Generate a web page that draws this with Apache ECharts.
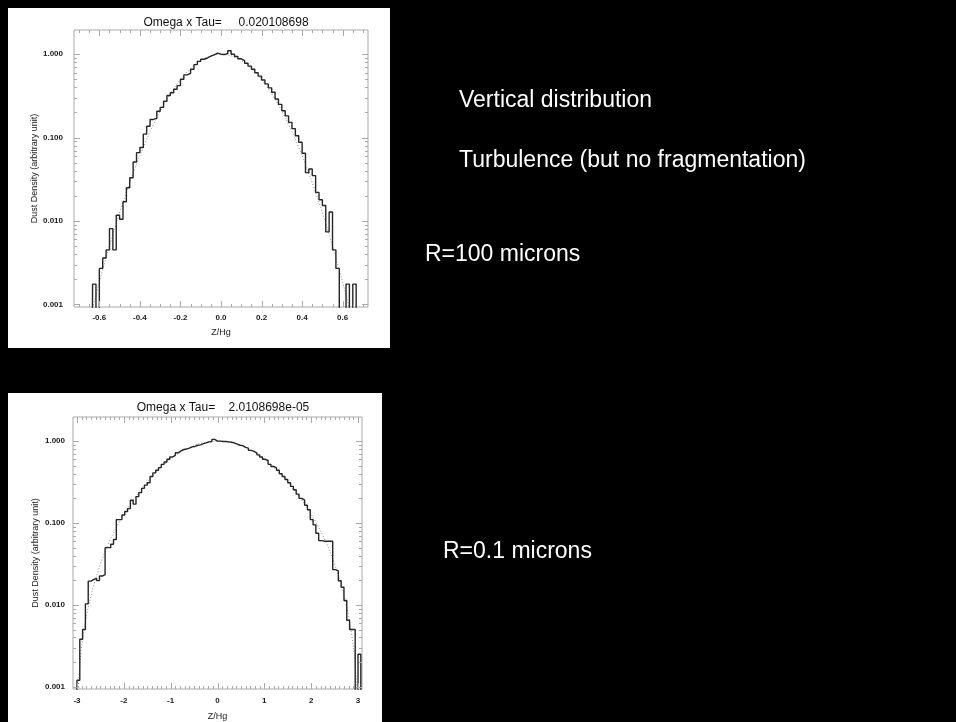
<!DOCTYPE html>
<html>
<head>
<meta charset="utf-8">
<title>Vertical distribution of dust</title>
<script src="https://cdn.jsdelivr.net/npm/echarts@6/dist/echarts.min.js"></script>
<style>
  html, body { margin: 0; padding: 0; background: #000; }
  #chart { width: 956px; height: 722px; }
</style>
</head>
<body>
<div id="chart"></div>
<script>
// ---------- Upper panel: R = 100 microns ----------
const upperTitle = 'Omega x Tau=     0.020108698';
const upperBinFirst = -0.658333;      // centre of the first histogram bin (Z/Hg)
const upperBinWidth = 1 / 60;
const upperDensity = [
  0, 0, 0.00175, 0, 0.0027, 0.0036, 0.0045, 0.0081, 0.0045, 0.0117,
  0.0105, 0.017, 0.025, 0.033, 0.051, 0.066, 0.076, 0.11, 0.137, 0.165,
  0.17, 0.207, 0.23, 0.273, 0.32, 0.345, 0.38, 0.42, 0.50, 0.565,
  0.59, 0.66, 0.75, 0.82, 0.87, 0.90, 0.95, 0.98, 1.03, 1.0,
  0.99, 1.02, 1.10, 1.0, 0.94, 0.88, 0.84, 0.78, 0.72, 0.66,
  0.60, 0.545, 0.49, 0.44, 0.395, 0.35, 0.29, 0.25, 0.21, 0.182,
  0.152, 0.128, 0.105, 0.088, 0.065, 0.038, 0.042, 0.035, 0.022, 0.018,
  0.0153, 0.0074, 0.0128, 0.0045, 0.0027, 0, 0, 0.00175, 0, 0.00175,
  0
];
const upperFitZ = [
  -0.64, -0.60, -0.56, -0.52, -0.48, -0.44, -0.40, -0.36, -0.32, -0.28, -0.24, -0.20, -0.16, -0.12, -0.08, -0.04,
  0,
  0.04, 0.08, 0.12, 0.16, 0.20, 0.24, 0.28, 0.32, 0.36, 0.40, 0.44, 0.48, 0.52, 0.56, 0.60, 0.64
];
const upperFitDensity = [
  0.00077, 0.00184, 0.00413, 0.0088, 0.0177, 0.0338, 0.0608, 0.1035, 0.167, 0.254, 0.365, 0.497, 0.639, 0.777, 0.894, 0.972,
  1.0,
  0.972, 0.894, 0.777, 0.639, 0.497, 0.365, 0.254, 0.167, 0.1035, 0.0608, 0.0338, 0.0177, 0.0088, 0.00413, 0.00184, 0.00077
];
const upperXRange = [-0.725, 0.725];
const upperYRange = [0.00093, 1.95];
const upperXMajor = [-0.6, -0.4, -0.2, 0, 0.2, 0.4, 0.6];
const upperXMinorStep = 0.05;

// ---------- Lower panel: R = 0.1 microns ----------
const lowerTitle = 'Omega x Tau=    2.0108698e-05';
const lowerBinFirst = -3.03;
const lowerBinWidth = 0.06;
const lowerDensity = [
  0, 0.0012, 0.0038, 0.005, 0.0103, 0.0195, 0.0205, 0.021, 0.0198, 0.0225,
  0.0235, 0.05, 0.05, 0.055, 0.063, 0.11, 0.11, 0.125, 0.138, 0.15,
  0.19, 0.17, 0.21, 0.235, 0.265, 0.29, 0.31, 0.37, 0.41, 0.44,
  0.475, 0.52, 0.555, 0.60, 0.64, 0.67, 0.72, 0.76, 0.79, 0.80,
  0.82, 0.85, 0.86, 0.89, 0.90, 0.93, 0.95, 0.98, 0.99, 1.05,
  1.0, 1.0, 0.99, 0.99, 0.98, 0.97, 0.95, 0.92, 0.89, 0.88,
  0.84, 0.82, 0.77, 0.75, 0.72, 0.68, 0.64, 0.60, 0.58, 0.52,
  0.49, 0.47, 0.44, 0.40, 0.37, 0.34, 0.31, 0.28, 0.255, 0.225,
  0.20, 0.19, 0.165, 0.145, 0.11, 0.095, 0.075, 0.061, 0.06, 0.06,
  0.06, 0.06, 0.027, 0.026, 0.0197, 0.0164, 0.0113, 0.0065, 0.005, 0.005,
  0, 0.0025, 0
];
const lowerFitZ = [
  -3.0, -2.95, -2.9, -2.8, -2.7, -2.6, -2.4, -2.2, -2.0, -1.8, -1.6, -1.4, -1.2, -1.0, -0.8, -0.6, -0.4, -0.2,
  0,
  0.2, 0.4, 0.6, 0.8, 1.0, 1.2, 1.4, 1.6, 1.8, 2.0, 2.2, 2.4, 2.6, 2.7, 2.8, 2.9, 2.95, 3.0
];
const lowerFitDensity = [
  0.0006, 0.0015, 0.0031, 0.0072, 0.013, 0.021, 0.045, 0.08, 0.128, 0.19, 0.27, 0.37, 0.48, 0.605, 0.725, 0.835, 0.925, 0.98,
  1.0,
  0.98, 0.925, 0.835, 0.725, 0.605, 0.48, 0.37, 0.27, 0.19, 0.128, 0.08, 0.045, 0.021, 0.013, 0.0072, 0.0031, 0.0015, 0.0006
];
const lowerXRange = [-3.085, 3.085];
const lowerYRange = [0.00094, 1.97];
const lowerXMajor = [-3, -2, -1, 0, 1, 2, 3];
const lowerXMinorStep = 0.1;

// ---------- Shared ----------
const yMajor = [0.001, 0.01, 0.1, 1];
const xName = 'Z/Hg';
const yName = 'Dust Density (arbitrary unit)';
const notes = ['Vertical distribution', 'Turbulence (but no fragmentation)', 'R=100 microns', 'R=0.1 microns'];

// empty bins sit far below the visible range so the step line drops to the axis
const EMPTY_BIN = 1e-6;
const FONT = '"Liberation Sans", Arial, Helvetica, sans-serif';
const FRAME = '#a9a9a9';

function stepPoints(first, width, values) {
  return values.map((v, i) => [first + i * width, v > 0 ? v : EMPTY_BIN]);
}
function pairs(xs, ys) { return xs.map((x, i) => [x, ys[i]]); }

function minorValues(range, step) {
  const out = [];
  const n0 = Math.ceil(range[0] / step - 1e-9), n1 = Math.floor(range[1] / step + 1e-9);
  for (let n = n0; n <= n1; n++) out.push(+(n * step).toFixed(6));
  return out;
}
function logMinors(range) {
  const out = [];
  for (let e = -4; e <= 1; e++) {
    for (let m = 2; m <= 9; m++) {
      const v = m * Math.pow(10, e);
      if (v > range[0] && v < range[1]) out.push(v);
    }
  }
  return out;
}

// IDL-style inward ticks on all four sides of a plot box
function tickSeries(idx, xMajor, xMinor, yMajorVals, yMinor) {
  const data = [];
  xMajor.forEach(v => data.push([v, 1, 0]));
  xMinor.forEach(v => data.push([v, 1, 1]));
  yMajorVals.forEach(v => data.push([0, v, 2]));
  yMinor.forEach(v => data.push([0, v, 3]));
  return {
    type: 'custom', xAxisIndex: idx, yAxisIndex: idx, silent: true, z: 4, clip: false,
    data,
    renderItem(params, api) {
      const cs = params.coordSys;
      const kind = api.value(2);
      const p = api.coord([api.value(0), api.value(1)]);
      const len = (kind === 0 || kind === 2) ? 6 : 3;
      const style = { stroke: FRAME, lineWidth: 1 };
      if (kind < 2) {
        const x = Math.round(p[0]) + 0.5;
        const yb = cs.y + cs.height;
        return { type: 'group', children: [
          { type: 'line', shape: { x1: x, y1: yb, x2: x, y2: yb - len }, style },
          { type: 'line', shape: { x1: x, y1: cs.y, x2: x, y2: cs.y + len }, style }
        ] };
      }
      const y = Math.round(p[1]) + 0.5;
      const xr = cs.x + cs.width;
      return { type: 'group', children: [
        { type: 'line', shape: { x1: cs.x, y1: y, x2: cs.x + len, y2: y }, style },
        { type: 'line', shape: { x1: xr, y1: y, x2: xr - len, y2: y }, style }
      ] };
    }
  };
}

const labelStyle = { color: '#1a1a1a', fontSize: 8, fontWeight: 'bold', fontFamily: FONT };
const nameStyle = { color: '#1a1a1a', fontSize: 9, fontFamily: FONT };
const titleStyle = { fontSize: 12, fontWeight: 'normal', color: '#111', fontFamily: FONT };
const noteFont = '23px ' + FONT;

function logLabel(v) {
  const l = Math.log10(v);
  return Math.abs(l - Math.round(l)) < 1e-6 ? v.toFixed(3) : '';
}

const chart = echarts.init(document.getElementById('chart'), null, { renderer: 'canvas' });

chart.setOption({
  backgroundColor: '#000',
  animation: false,
  title: [
    { text: upperTitle, left: 221, top: 12, textAlign: 'center', textStyle: titleStyle },
    { text: lowerTitle, left: 218, top: 397, textAlign: 'center', textStyle: titleStyle }
  ],
  graphic: {
    elements: [
      { type: 'rect', z: -10, shape: { x: 8, y: 8, width: 382, height: 340 }, style: { fill: '#fff' } },
      { type: 'rect', z: -10, shape: { x: 8, y: 393, width: 374, height: 329 }, style: { fill: '#fff' } },
      { type: 'text', left: 459, top: 89, style: { text: notes[0], fill: '#fff', font: noteFont } },
      { type: 'text', left: 459, top: 149, style: { text: notes[1], fill: '#fff', font: noteFont } },
      { type: 'text', left: 425, top: 243, style: { text: notes[2], fill: '#fff', font: noteFont } },
      { type: 'text', left: 443, top: 540, style: { text: notes[3], fill: '#fff', font: noteFont } }
    ]
  },
  grid: [
    { left: 74, top: 30, width: 294, height: 277, show: true, borderColor: FRAME, borderWidth: 1, backgroundColor: 'transparent' },
    { left: 73, top: 417, width: 289, height: 272, show: true, borderColor: FRAME, borderWidth: 1, backgroundColor: 'transparent' }
  ],
  xAxis: [
    { gridIndex: 0, type: 'value', min: upperXRange[0], max: upperXRange[1], splitNumber: 7,
      axisLine: { show: false }, axisTick: { show: false }, splitLine: { show: false },
      axisLabel: { ...labelStyle, margin: 7, showMinLabel: false, showMaxLabel: false,
        formatter: v => Math.abs(v * 5 - Math.round(v * 5)) < 1e-6 ? v.toFixed(1) : '' },
      name: xName, nameLocation: 'middle', nameGap: 21, nameTextStyle: nameStyle },
    { gridIndex: 1, type: 'value', min: lowerXRange[0], max: lowerXRange[1], splitNumber: 6,
      axisLine: { show: false }, axisTick: { show: false }, splitLine: { show: false },
      axisLabel: { ...labelStyle, margin: 8, showMinLabel: false, showMaxLabel: false,
        formatter: v => Math.abs(v - Math.round(v)) < 1e-6 ? String(Math.round(v) || 0) : '' },
      name: xName, nameLocation: 'middle', nameGap: 23, nameTextStyle: nameStyle }
  ],
  yAxis: [
    { gridIndex: 0, type: 'log', logBase: 10, min: upperYRange[0], max: upperYRange[1],
      axisLine: { show: false }, axisTick: { show: false }, splitLine: { show: false }, minorTick: { show: false },
      axisLabel: { ...labelStyle, margin: 11, formatter: logLabel, showMinLabel: false, showMaxLabel: false },
      name: yName, nameLocation: 'middle', nameRotate: 90, nameGap: 34, nameTextStyle: nameStyle },
    { gridIndex: 1, type: 'log', logBase: 10, min: lowerYRange[0], max: lowerYRange[1],
      axisLine: { show: false }, axisTick: { show: false }, splitLine: { show: false }, minorTick: { show: false },
      axisLabel: { ...labelStyle, margin: 8, formatter: logLabel, showMinLabel: false, showMaxLabel: false },
      name: yName, nameLocation: 'middle', nameRotate: 90, nameGap: 33, nameTextStyle: nameStyle }
  ],
  series: [
    { type: 'line', xAxisIndex: 0, yAxisIndex: 0, step: 'middle', showSymbol: false, clip: true, z: 3,
      lineStyle: { color: '#262626', width: 1.4 },
      data: stepPoints(upperBinFirst, upperBinWidth, upperDensity) },
    { type: 'line', xAxisIndex: 0, yAxisIndex: 0, smooth: 0.3, showSymbol: false, clip: true, z: 2,
      lineStyle: { color: '#8c8c8c', width: 1, type: [1, 2] },
      data: pairs(upperFitZ, upperFitDensity) },
    tickSeries(0, upperXMajor, minorValues(upperXRange, upperXMinorStep), yMajor, logMinors(upperYRange)),

    { type: 'line', xAxisIndex: 1, yAxisIndex: 1, step: 'middle', showSymbol: false, clip: true, z: 3,
      lineStyle: { color: '#262626', width: 1.4 },
      data: stepPoints(lowerBinFirst, lowerBinWidth, lowerDensity) },
    { type: 'line', xAxisIndex: 1, yAxisIndex: 1, smooth: 0.3, showSymbol: false, clip: true, z: 2,
      lineStyle: { color: '#8c8c8c', width: 1, type: [1, 2] },
      data: pairs(lowerFitZ, lowerFitDensity) },
    tickSeries(1, lowerXMajor, minorValues(lowerXRange, lowerXMinorStep), yMajor, logMinors(lowerYRange))
  ]
});
</script>
</body>
</html>
